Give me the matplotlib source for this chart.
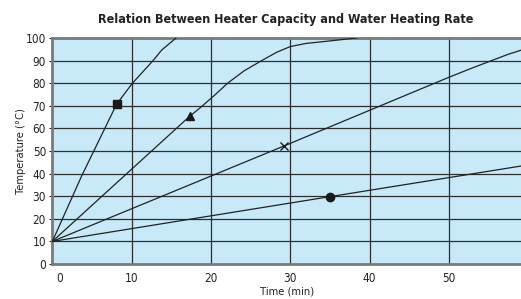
import matplotlib
matplotlib.use("Agg")

import matplotlib.pyplot as plt
import matplotlib.transforms as mtransforms

# -----------------------
# DATA
# -----------------------
title = "Relation Between Heater Capacity and Water Heating Rate"
x_label = "Time (min)"
y_label = "Temperature (°C)"

x_ticks = [0, 10, 20, 30, 40, 50]
y_ticks = [0, 10, 20, 30, 40, 50, 60, 70, 80, 90, 100]

# square marker curve
sq_x = [0, 3.7, 8.1, 10.1, 12.7, 13.8, 15.6]
sq_y = [10, 39, 70.7, 80, 90, 94.7, 100]
sq_mark = 2

# triangle marker curve
tri_x = [0, 17.3, 18.6, 20.5, 22.1, 24.2, 26.4, 28.3, 30, 32, 35, 38.4]
tri_y = [10, 65.3, 69, 74.8, 80, 85.5, 90, 93.7, 96.2, 97.6, 98.7, 100]
tri_mark = 1

# cross marker curve
cr_x = [0, 29.2, 40, 50, 53, 55.4, 57.5, 59.2]
cr_y = [10, 52.2, 68, 82.6, 86.8, 90, 92.8, 94.7]
cr_mark = 1

# circle marker curve
ci_x = [0, 35, 59.2]
ci_y = [10, 29.8, 43.4]
ci_mark = 1

# -----------------------
# STYLE
# -----------------------
plt.rcParams['font.family'] = ['DejaVu Sans']
plt.rcParams['font.stretch'] = 'condensed'  # original uses a narrow face
bg = "#c7e9f8"
grid_col = "#2e2e2e"
spine_col = "#7a7a7a"

fig = plt.figure(figsize=(5.21, 2.99), dpi=100)
ax = fig.add_axes([0.1005, 0.117, 0.8995, 0.756])
ax.set_facecolor(bg)

ax.set_xlim(0, 59.1)
ax.set_ylim(0, 100)

for xv in x_ticks[1:]:
    ax.axvline(xv, color=grid_col, lw=0.9, zorder=1)
for yv in y_ticks[1:-1]:
    ax.axhline(yv, color=grid_col, lw=0.9, zorder=1)

line_kw = dict(color="#222222", lw=0.9, zorder=3, clip_on=True)
ax.plot(sq_x, sq_y, marker="s", markevery=[sq_mark], ms=6, mfc="#1a1a1a", mec="#1a1a1a", **line_kw)
ax.plot(tri_x, tri_y, marker="^", markevery=[tri_mark], ms=6, mfc="#1a1a1a", mec="#1a1a1a", **line_kw)
ax.plot(cr_x, cr_y, marker="x", markevery=[cr_mark], ms=5.5, mew=1.0, mec="#1a1a1a", **line_kw)
ax.plot(ci_x, ci_y, marker="o", markevery=[ci_mark], ms=6, mfc="#1a1a1a", mec="#1a1a1a", **line_kw)

for side in ["left", "bottom", "top"]:
    ax.spines[side].set_color(spine_col)
    ax.spines[side].set_linewidth(2)
ax.spines["right"].set_visible(False)

ax.set_xticks(x_ticks)
ax.set_yticks(y_ticks)
ax.tick_params(axis="x", length=0, pad=6, labelsize=8.5, colors="#222222")
ax.tick_params(axis="y", length=2.5, width=0.8, pad=2, labelsize=8.5, colors="#222222")

# the "0" time label sits a little right of the axis in the original
offset = mtransforms.ScaledTranslation(7 / 100, 0, fig.dpi_scale_trans)
lbl0 = ax.get_xticklabels()[0]
lbl0.set_transform(lbl0.get_transform() + offset)

ax.set_xlabel(x_label, fontsize=8, labelpad=1, color="#222222")
ax.set_ylabel(y_label, fontsize=8, labelpad=0, color="#222222")
fig.suptitle(title, fontsize=9, fontweight="bold", x=0.548, y=0.955, color="#222222")

plt.savefig("out.png", dpi=100)
plt.close()
